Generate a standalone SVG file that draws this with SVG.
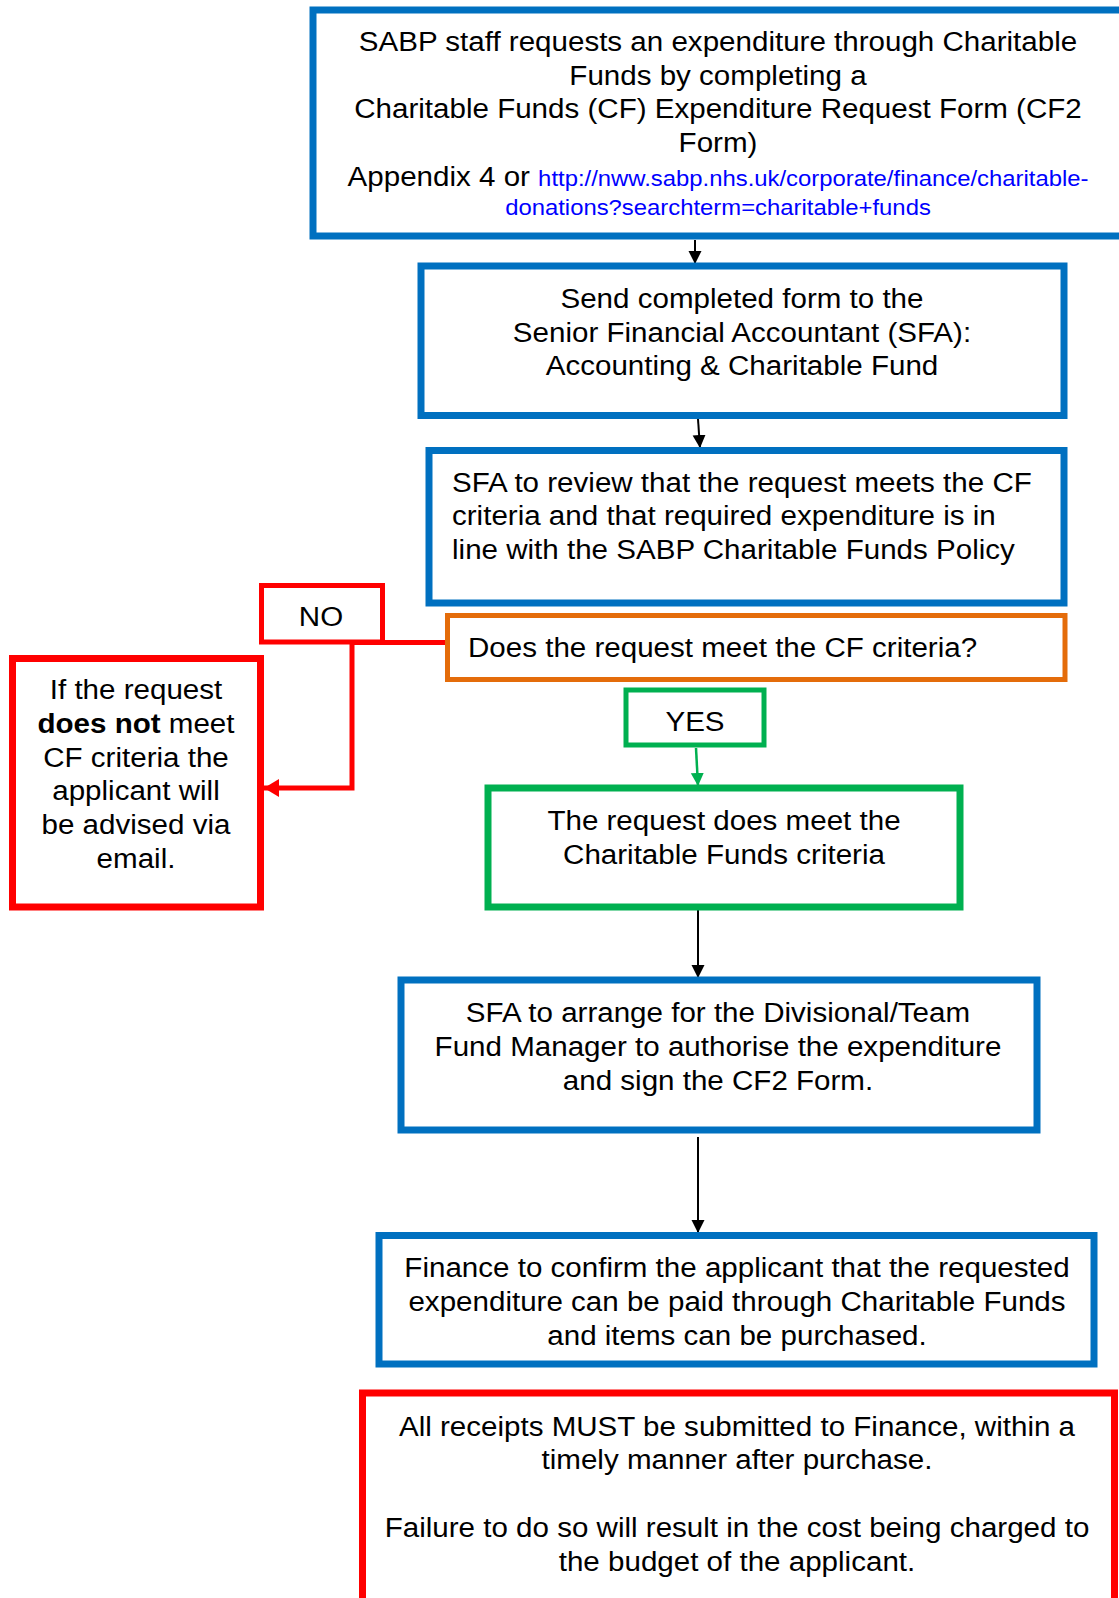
<svg xmlns="http://www.w3.org/2000/svg" width="1119" height="1598" viewBox="0 0 1119 1598">
<style>
text{font-family:"Liberation Sans",Arial,sans-serif;font-size:27px;fill:#000}
.c{text-anchor:middle}
.url{fill:#0000FF;font-size:21.8px}
.box{fill:#fff}
.blue{stroke:#0070C0;stroke-width:7}
.red{stroke:#FF0000;stroke-width:7}
.green{stroke:#00B050;stroke-width:7}
.orange{stroke:#E46C0A;stroke-width:5}
</style>
<defs>
<marker id="ab" markerUnits="userSpaceOnUse" markerWidth="14" markerHeight="14" refX="13" refY="6.5" orient="auto"><path d="M0,0 L13,6.5 L0,13 Z" fill="#000"/></marker>
<marker id="ag" markerUnits="userSpaceOnUse" markerWidth="14" markerHeight="14" refX="13" refY="6.5" orient="auto"><path d="M0,0 L13,6.5 L0,13 Z" fill="#00B050"/></marker>
<marker id="ar" markerUnits="userSpaceOnUse" markerWidth="16" markerHeight="20" refX="15" refY="9" orient="auto"><path d="M0,0 L15,9 L0,18 Z" fill="#FF0000"/></marker>
</defs>
<rect width="1119" height="1598" fill="#fff"/>
<g id="connectors">
<line x1="695" y1="240" x2="695" y2="264" stroke="#000" stroke-width="2" marker-end="url(#ab)"/>
<line x1="698" y1="419" x2="700" y2="448" stroke="#000" stroke-width="2" marker-end="url(#ab)"/>
<polyline points="447,642.5 352,642.5 352,788 264,788" fill="none" stroke="#FF0000" stroke-width="5" marker-end="url(#ar)"/>
<line x1="696" y1="748" x2="698" y2="786" stroke="#00B050" stroke-width="2.5" marker-end="url(#ag)"/>
<line x1="698" y1="910" x2="698" y2="978" stroke="#000" stroke-width="2" marker-end="url(#ab)"/>
<line x1="698" y1="1137" x2="698" y2="1233" stroke="#000" stroke-width="2" marker-end="url(#ab)"/>
</g>
<g id="n1">
<rect class="box blue" x="313" y="10" width="820" height="226"/>
<g transform="matrix(1.095 0 0 1 -68.21 1)">
<text class="c" x="718" y="50">SABP staff requests an expenditure through Charitable</text>
<text class="c" x="718" y="84">Funds by completing a</text>
<text class="c" x="718" y="117">Charitable Funds (CF) Expenditure Request Form (CF2</text>
<text class="c" x="718" y="151">Form)</text>
<text class="c" x="718" y="185">Appendix 4 or <tspan class="url">http://nww.sabp.nhs.uk/corporate/finance/charitable-</tspan></text>
<text class="c url" x="718" y="214">donations?searchterm=charitable+funds</text>
</g>
</g>
<g id="n2">
<rect class="box blue" x="421" y="266" width="643" height="149.5"/>
<g transform="matrix(1.095 0 0 1 -70.49 1)">
<text class="c" x="742" y="307">Send completed form to the</text>
<text class="c" x="742" y="341">Senior Financial Accountant (SFA):</text>
<text class="c" x="742" y="374">Accounting &amp; Charitable Fund</text>
</g>
</g>
<g id="n3">
<rect class="box blue" x="429" y="450.5" width="635" height="152.5"/>
<g transform="matrix(1.095 0 0 1 -42.94 1)">
<text x="452" y="491">SFA to review that the request meets the CF</text>
<text x="452" y="524">criteria and that required expenditure is in</text>
<text x="452" y="558">line with the SABP Charitable Funds Policy</text>
</g>
</g>
<g id="n4">
<rect class="box orange" x="447.5" y="615.5" width="617.5" height="64"/>
<g transform="matrix(1.095 0 0 1 -44.46 1)">
<text x="468" y="656">Does the request meet the CF criteria?</text>
</g>
</g>
<g id="no">
<rect class="box" x="261.5" y="585.5" width="121" height="56.5" stroke="#FF0000" stroke-width="5"/>
<g transform="matrix(1.095 0 0 1 -30.5 1)">
<text class="c" x="321" y="625">NO</text>
</g>
</g>
<g id="n5">
<rect class="box red" x="12.5" y="658.5" width="248" height="248.5"/>
<g transform="matrix(1.095 0 0 1 -12.92 1)">
<text class="c" x="136" y="698">If the request</text>
<text class="c" x="136" y="732"><tspan font-weight="bold">does not</tspan> meet</text>
<text class="c" x="136" y="766">CF criteria the</text>
<text class="c" x="136" y="799">applicant will</text>
<text class="c" x="136" y="833">be advised via</text>
<text class="c" x="136" y="867">email.</text>
</g>
</g>
<g id="yes">
<rect class="box" x="626" y="690" width="138" height="55" stroke="#00B050" stroke-width="5"/>
<g transform="matrix(1.095 0 0 1 -66.03 1)">
<text class="c" x="695" y="730">YES</text>
</g>
</g>
<g id="n6">
<rect class="box green" x="488" y="788" width="472" height="119"/>
<g transform="matrix(1.095 0 0 1 -68.78 1)">
<text class="c" x="724" y="829">The request does meet the</text>
<text class="c" x="724" y="863">Charitable Funds criteria</text>
</g>
</g>
<g id="n7">
<rect class="box blue" x="401" y="980" width="636" height="150"/>
<g transform="matrix(1.095 0 0 1 -68.21 1)">
<text class="c" x="718" y="1021">SFA to arrange for the Divisional/Team</text>
<text class="c" x="718" y="1055">Fund Manager to authorise the expenditure</text>
<text class="c" x="718" y="1089">and sign the CF2 Form.</text>
</g>
</g>
<g id="n8">
<rect class="box blue" x="379" y="1235.5" width="715" height="128.5"/>
<g transform="matrix(1.095 0 0 1 -70.02 1)">
<text class="c" x="737" y="1276">Finance to confirm the applicant that the requested</text>
<text class="c" x="737" y="1310">expenditure can be paid through Charitable Funds</text>
<text class="c" x="737" y="1344">and items can be purchased.</text>
</g>
</g>
<g id="n9">
<rect class="box red" x="362.5" y="1393" width="752" height="220"/>
<g transform="matrix(1.095 0 0 1 -70.02 1)">
<text class="c" x="737" y="1435">All receipts MUST be submitted to Finance, within a</text>
<text class="c" x="737" y="1468">timely manner after purchase.</text>
<text class="c" x="737" y="1536">Failure to do so will result in the cost being charged to</text>
<text class="c" x="737" y="1570">the budget of the applicant.</text>
</g>
</g>
</svg>
